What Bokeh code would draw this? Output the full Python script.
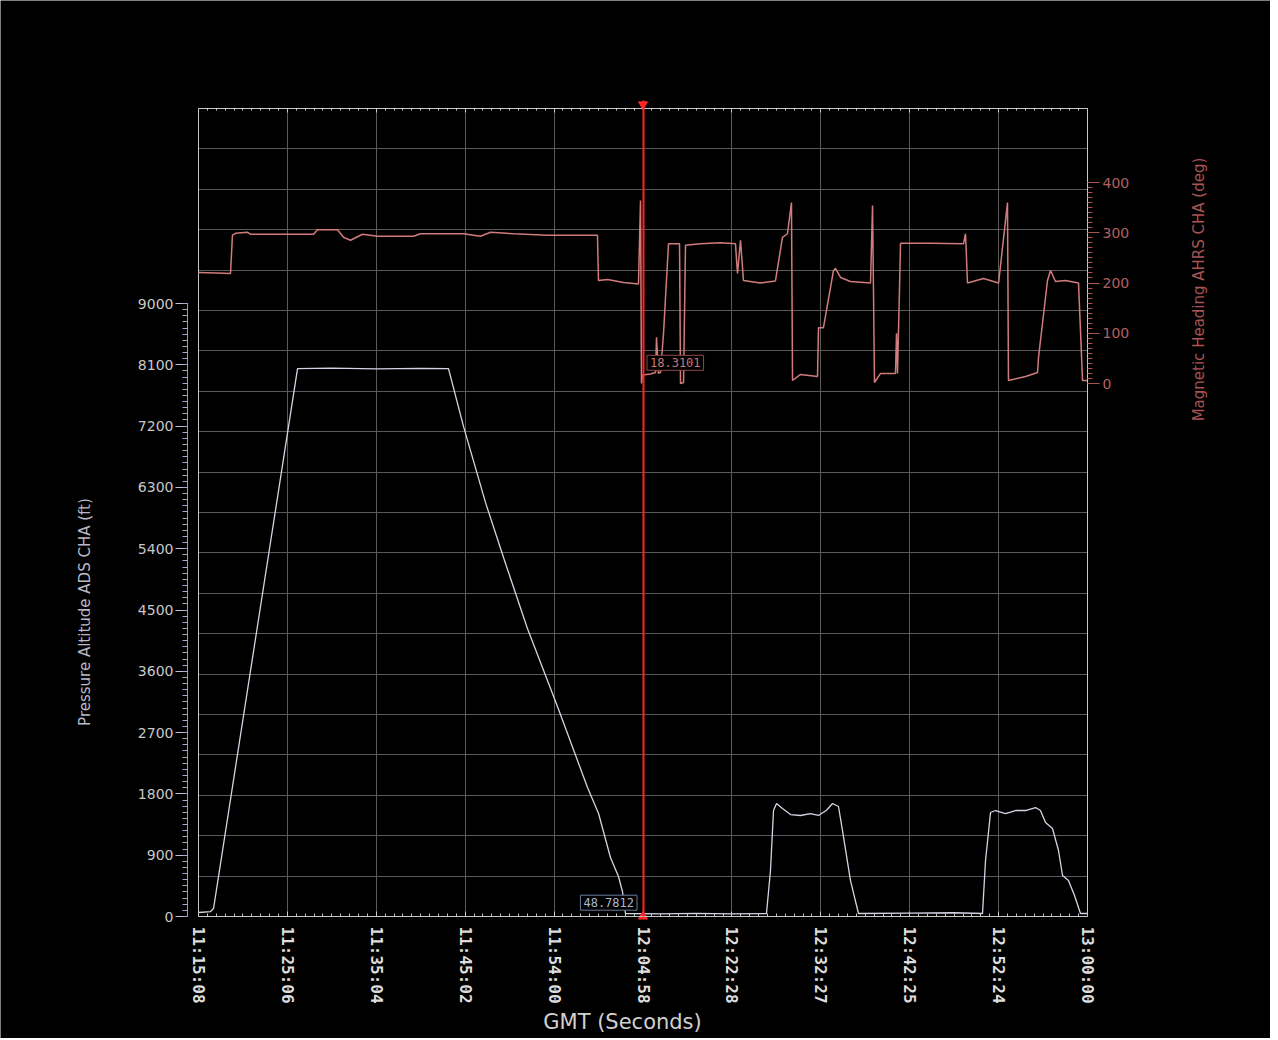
import math
from bokeh.plotting import figure
from bokeh.models import (Range1d, LinearAxis, FixedTicker, SingleIntervalTicker,
                          Label, Grid)
from bokeh.embed import file_html
from bokeh.resources import INLINE

# ---------------- data ----------------
time_labels = ["11:15:08", "11:25:06", "11:35:04", "11:45:02", "11:54:00", "12:04:58",
               "12:22:28", "12:32:27", "12:42:25", "12:52:24", "13:00:00"]
tick_pos = list(range(len(time_labels)))

# Pressure Altitude ADS CHA (ft) vs time (tick-index units)
alt_t = [0.0, 0.135, 0.169, 1.114, 1.5, 2.0, 2.5, 2.812, 2.98, 3.228, 3.431, 3.70, 4.038,
         4.376, 4.50, 4.634, 4.724, 4.769, 4.803, 5.2, 5.6, 6.0, 6.389, 6.434, 6.468, 6.502,
         6.569, 6.659, 6.772, 6.884, 6.974, 7.064, 7.132, 7.199, 7.244, 7.334, 7.424, 8.0,
         8.5, 8.819, 8.853, 8.909, 8.965, 9.078, 9.190, 9.303, 9.415, 9.471, 9.528, 9.606,
         9.674, 9.719, 9.786, 9.854, 9.921, 10.0]
alt_ft = [59, 73, 117, 8045, 8050, 8040, 8048, 8045, 7200, 6080, 5270, 4228, 3083,
          1894, 1512, 866, 587, 367, 44, 40, 45, 38, 44, 675, 1556, 1659,
          1585, 1497, 1483, 1512, 1483, 1560, 1659, 1615, 1262, 528, 44, 50,
          55, 44, 822, 1527, 1556, 1512, 1556, 1556, 1600, 1556, 1380, 1292,
          969, 602, 528, 308, 44, 44]

# Magnetic Heading AHRS CHA (deg) vs time (tick-index units)
hdg_t = [0.0, 0.20, 0.36, 0.382, 0.416, 0.551, 0.585, 1.294, 1.339, 1.564, 1.631, 1.710,
         1.845, 2.013, 2.418, 2.497, 2.981, 3.172, 3.285, 3.543, 3.926, 4.488, 4.499, 4.601,
         4.781, 4.949, 4.972, 4.983, 4.994, 5.084, 5.141, 5.152, 5.174, 5.197, 5.231, 5.287,
         5.411, 5.422, 5.456, 5.478, 5.647, 5.872, 6.040, 6.063, 6.097, 6.130, 6.322, 6.490,
         6.569, 6.625, 6.670, 6.682, 6.772, 6.963, 6.974, 7.030, 7.143, 7.165, 7.222, 7.334,
         7.559, 7.582, 7.604, 7.672, 7.840, 7.852, 7.863, 7.897, 8.234, 8.605, 8.628, 8.650,
         8.830, 9.0, 9.100, 9.111, 9.303, 9.438, 9.449, 9.550, 9.584, 9.640, 9.753, 9.899,
         9.944, 10.0]
hdg_deg = [221, 220, 219, 295, 299, 301, 297, 297, 306, 306, 291, 285,
           297, 293, 293, 298, 298, 293, 301, 298, 295, 295, 205, 207,
           201, 198, 364, 0, 17, 19, 22, 92, 20, 22, 100, 278,
           278, 0, 2, 275, 278, 280, 278, 219, 285, 205, 200, 204,
           291, 298, 360, 6, 18, 14, 111, 111, 225, 229, 211, 203,
           200, 354, 2, 20, 20, 100, 20, 279, 279, 278, 298, 200,
           209, 200, 360, 6, 14, 22, 52, 205, 225, 203, 205, 200,
           6, 6]

cursor_t = 5.0
cursor_alt = 48.7812
cursor_hdg = 18.3101

alt_ticks_max = 9000
hdg_ticks_max = 400

x_title = "GMT (Seconds)"
alt_title = "Pressure Altitude ADS CHA (ft)"
hdg_title = "Magnetic Heading AHRS CHA (deg)"

# ---------------- styling / geometry ----------------
FRAME = "#c8c8c8"
GRID = "#5a5a5a"
ALT_COL = "#d2d6e4"
HDG_COL = "#d07c7c"
HDG_AX = "#a85454"
CURSOR = "#ff2424"

W, H = 1270, 1038
X0, XS = 198, 88.9          # px of first time tick, px per tick
YB, YT = 916, 108           # plot box bottom / top px
GS = (YB - YT) / 20         # px per horizontal grid band
AS = 613 / alt_ticks_max    # px per ft
H0, HS = 383, 0.5025        # px of 0 deg, px per deg

p = figure(width=W, height=H, output_backend="svg", toolbar_location=None,
           x_range=Range1d(-X0 / XS, (W - X0) / XS),
           y_range=Range1d((YB - H) / GS, YB / GS),
           x_axis_location=None, y_axis_location=None,
           background_fill_color="black", border_fill_color="black",
           min_border=0)
p.outline_line_color = None
p.center = [r for r in p.center if not isinstance(r, Grid)]
p.extra_y_ranges = {"alt": Range1d((YB - H) / AS, YB / AS),
                    "hdg": Range1d((H0 - H) / HS, H0 / HS)}

# grids
p.add_layout(Grid(dimension=0, ticker=FixedTicker(ticks=tick_pos[1:-1]), cross_bounds=(0, 20),
                  grid_line_color=GRID, grid_line_width=1), "center")
p.add_layout(Grid(dimension=1, ticker=FixedTicker(ticks=list(range(1, 20))), cross_bounds=(0, 10),
                  grid_line_color=GRID, grid_line_width=1), "center")
p.add_layout(Grid(dimension=0, ticker=FixedTicker(ticks=[tick_pos[0], tick_pos[-1]]),
                  cross_bounds=(0, 20), grid_line_color=FRAME, grid_line_width=1), "center")

minor_x = [i / 10 for i in range(0, 101) if i % 10 != 0]

# bottom time axis
xaxis = LinearAxis(ticker=FixedTicker(ticks=tick_pos, minor_ticks=minor_x), bounds=(0, 10),
                   fixed_location=0,
                   major_label_overrides={i: lab for i, lab in enumerate(time_labels)},
                   major_label_orientation="vertical",
                   axis_line_color=FRAME, major_tick_line_color=FRAME, minor_tick_line_color=FRAME,
                   major_tick_in=5, major_tick_out=0, minor_tick_in=3, minor_tick_out=0,
                   major_label_standoff=10,
                   major_label_text_font="DejaVu Sans Mono", major_label_text_font_style="bold",
                   major_label_text_font_size="16px", major_label_text_color="#dcdcdc")
p.add_layout(xaxis, "below")

# top frame edge with ticks
top = LinearAxis(ticker=FixedTicker(ticks=tick_pos, minor_ticks=minor_x), bounds=(0, 10),
                 fixed_location=20,
                 axis_line_color=FRAME, major_tick_line_color=FRAME, minor_tick_line_color=FRAME,
                 major_tick_in=4, major_tick_out=0, minor_tick_in=2, minor_tick_out=0,
                 major_label_text_color=None, major_label_text_font_size="1px")
p.add_layout(top, "above")

# left altitude axis
yl = LinearAxis(y_range_name="alt", bounds=(0, alt_ticks_max), fixed_location=-11 / XS,
                ticker=SingleIntervalTicker(interval=900, num_minor_ticks=10),
                axis_line_color="#9898c8", major_tick_line_color="#c0c0d8",
                minor_tick_line_color="#a8a8cc",
                major_tick_out=12, major_tick_in=0, minor_tick_out=5, minor_tick_in=0,
                major_label_standoff=2,
                major_label_text_font="DejaVu Sans", major_label_text_font_size="14px",
                major_label_text_color="#c8c8c8")
p.add_layout(yl, "left")

# right heading axis
yr = LinearAxis(y_range_name="hdg", bounds=(0, hdg_ticks_max), fixed_location=10,
                ticker=SingleIntervalTicker(interval=100, num_minor_ticks=10),
                axis_line_color=FRAME, major_tick_line_color=HDG_AX,
                minor_tick_line_color=HDG_AX,
                major_tick_out=12, major_tick_in=0, minor_tick_out=5, minor_tick_in=0,
                major_label_standoff=3,
                major_label_text_font="DejaVu Sans", major_label_text_font_size="14px",
                major_label_text_color="#b06060")
p.add_layout(yr, "right")

# axis titles
p.add_layout(Label(x=(84 - X0) / XS, y=alt_ticks_max / 2 - 30, y_range_name="alt", text=alt_title,
                   angle=math.pi / 2, text_align="center", text_baseline="middle",
                   text_font="DejaVu Sans", text_font_size="15px", text_color="#b8b8c8"))
p.add_layout(Label(x=(1198 - X0) / XS, y=(H0 - 289) / HS, y_range_name="hdg", text=hdg_title,
                   angle=math.pi / 2, text_align="center", text_baseline="middle",
                   text_font="DejaVu Sans", text_font_size="15px", text_color=HDG_AX))
p.add_layout(Label(x=(622 - X0) / XS, y=(YB - 1021) / GS, text=x_title,
                   text_align="center", text_baseline="middle",
                   text_font="DejaVu Sans", text_font_size="21px", text_color="#d0d0d0"))

# series
p.line(hdg_t, hdg_deg, y_range_name="hdg", line_color=HDG_COL, line_width=1.5)
p.line(alt_t, alt_ft, y_range_name="alt", line_color=ALT_COL, line_width=1.3)

# cursor
p.add_layout(Grid(dimension=0, ticker=FixedTicker(ticks=[cursor_t]), cross_bounds=(0, 20.2),
                  grid_line_color=CURSOR, grid_line_width=2, level="overlay"), "center")
p.scatter([cursor_t], [20.1], marker="inverted_triangle", size=9, color=CURSOR)
p.scatter([cursor_t], [0.0], marker="triangle", size=9, color=CURSOR)

p.add_layout(Label(x=cursor_t, y=cursor_hdg, y_range_name="hdg", text=f"{cursor_hdg:.4f}",
                   x_offset=4, y_offset=4, anchor="bottom_left",
                   text_font="DejaVu Sans Mono", text_font_size="12px", text_color="#c87878",
                   border_line_color="#904848", background_fill_color="black", padding=3))
p.add_layout(Label(x=cursor_t, y=cursor_alt, y_range_name="alt", text=f"{cursor_alt:.4f}",
                   x_offset=-6, y_offset=3, anchor="bottom_right",
                   text_font="DejaVu Sans Mono", text_font_size="12px", text_color="#a8b8d0",
                   border_line_color="#6878a0", background_fill_color="black", padding=3))

open("out.html", "w").write(file_html(p, INLINE))
